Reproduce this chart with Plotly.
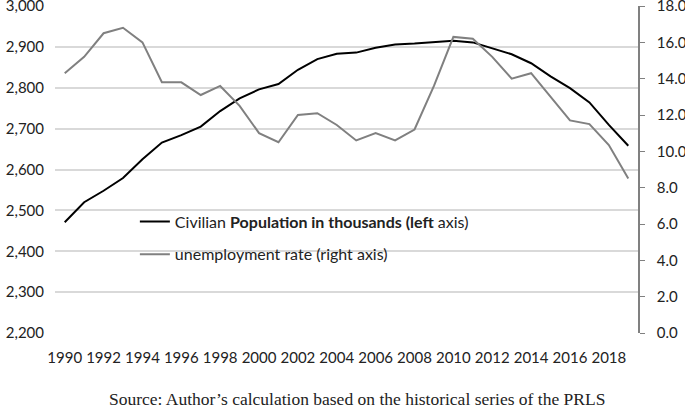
import plotly.graph_objects as go

years = list(range(1990, 2020))
population = [2471, 2520, 2548, 2579, 2625, 2666, 2684, 2705, 2743, 2774, 2796, 2809,
              2844, 2870, 2883, 2886, 2898, 2906, 2908, 2911, 2915, 2911, 2897, 2882,
              2860, 2828, 2799, 2764, 2709, 2658]
unemployment = [14.3, 15.2, 16.5, 16.8, 16.0, 13.8, 13.8, 13.1, 13.6, 12.5, 11.0, 10.5,
                12.0, 12.1, 11.45, 10.6, 11.0, 10.6, 11.2, 13.6, 16.3, 16.2, 15.2, 14.0,
                14.3, 13.0, 11.7, 11.5, 10.35, 8.5]
left_ticks = list(range(2200, 3001, 100))
right_ticks = [i * 2.0 for i in range(10)]
xtick_years = list(range(1990, 2019, 2))

font_main = "Lato, 'Open Sans', sans-serif"

fig = go.Figure()
fig.add_trace(go.Scatter(
    x=years, y=population, mode="lines", legendgroup="a",
    name="Civilian <b>Population in thousands (left</b> axis)",
    line=dict(color="#000000", width=2), yaxis="y"))
fig.add_trace(go.Scatter(
    x=years, y=unemployment, mode="lines", legendgroup="b",
    name="unemployment rate (right axis)",
    line=dict(color="#808080", width=2), yaxis="y2"))

fig.update_layout(
    width=685, height=410,
    margin=dict(l=55, r=47, t=6, b=77, autoexpand=False),
    paper_bgcolor="white", plot_bgcolor="white",
    font=dict(family=font_main, size=15, color="#222222"),
    showlegend=True,
    legend=dict(x=0.137, y=0.393, xanchor="left", yanchor="top",
                bgcolor="rgba(0,0,0,0)", font=dict(size=16, color="#222222"),
                tracegroupgap=9, itemwidth=30),
    xaxis=dict(range=[1989.5, 2019.5], tickvals=xtick_years,
               ticktext=[str(y) for y in xtick_years],
               showgrid=False, zeroline=False, showline=False,
               ticks="outside", ticklen=11, tickcolor="rgba(0,0,0,0)"),
    yaxis=dict(range=[2200, 3000], tickvals=left_ticks,
               ticktext=[f"{v:,}" for v in left_ticks],
               showgrid=True, gridcolor="#d9d9d9", gridwidth=1.5,
               zeroline=False, showline=False, ticks="",
               ticklabelstandoff=10, ticklabeloverflow="allow"),
    yaxis2=dict(range=[0, 18], tickvals=right_ticks,
                ticktext=[f"{v:.1f}" for v in right_ticks],
                overlaying="y", side="right", showgrid=False, zeroline=False,
                showline=True, linecolor="#808080", linewidth=1.5,
                ticks="outside", ticklen=5, tickcolor="#808080",
                ticklabelstandoff=9, ticklabeloverflow="allow"),
    annotations=[dict(
        text="Source: Author\u2019s calculation based on the historical series of the PRLS",
        x=(357 - 55) / 583.0, xref="paper", xanchor="center",
        y=-(399 - 333) / 327.0, yref="paper", yanchor="middle", showarrow=False,
        font=dict(family="'Liberation Serif', 'Times New Roman', serif", size=17.5,
                  color="#222222"))],
)

fig.write_html("out.html", config={"displayModeBar": False},
               post_script="document.body.style.margin='0px';document.body.style.padding='0px';")
